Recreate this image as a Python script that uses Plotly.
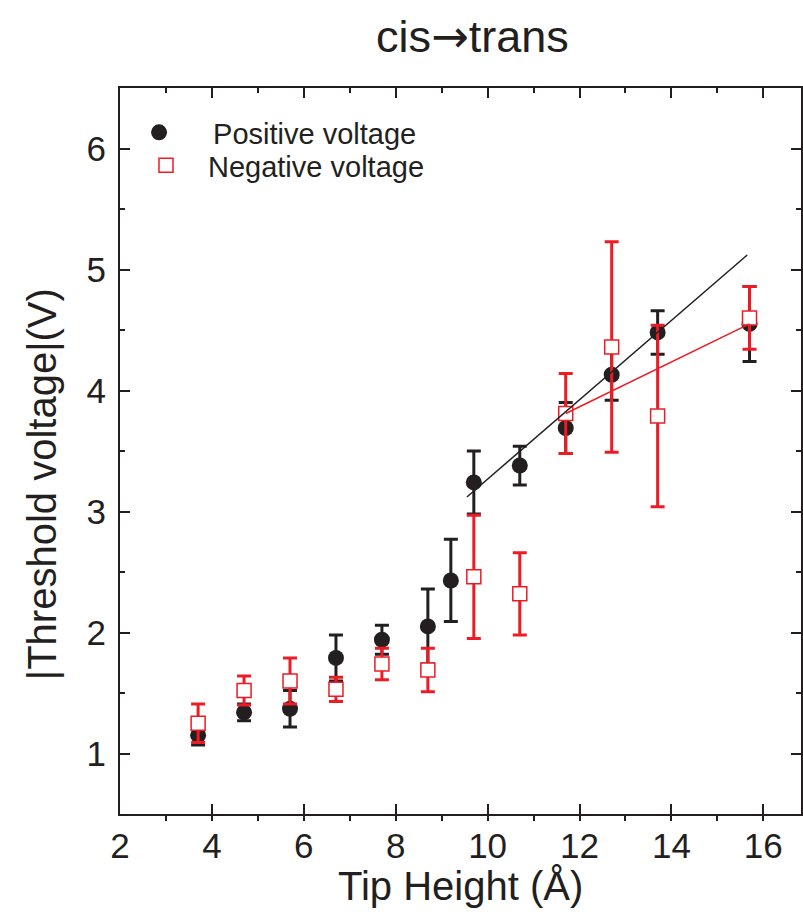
import plotly.graph_objects as go

# ---- data ----
pos_x = [3.7, 4.7, 5.7, 6.7, 7.7, 8.7, 9.2, 9.7, 10.7, 11.7, 12.7, 13.7, 15.7]
pos_y = [1.15, 1.34, 1.37, 1.79, 1.94, 2.05, 2.43, 3.24, 3.38, 3.69, 4.13, 4.48, 4.55]
pos_err = [0.08, 0.07, 0.15, 0.19, 0.12, 0.31, 0.34, 0.26, 0.16, 0.21, 0.21, 0.18, 0.31]

neg_x = [3.7, 4.7, 5.7, 6.7, 7.7, 8.7, 9.7, 10.7, 11.7, 12.7, 13.7, 15.7]
neg_y = [1.25, 1.52, 1.60, 1.53, 1.74, 1.69, 2.46, 2.32, 3.81, 4.36, 3.79, 4.60]
neg_err = [0.16, 0.12, 0.19, 0.10, 0.13, 0.18, 0.51, 0.34, 0.33, 0.87, 0.75, 0.26]

fit_pos_x = [9.55, 15.65]
fit_pos_y = [3.12, 5.12]
fit_neg_x = [11.7, 15.7]
fit_neg_y = [3.81, 4.55]

x_ticks = [2, 4, 6, 8, 10, 12, 14, 16]
y_ticks = [1, 2, 3, 4, 5, 6]

BLACK = "#231F20"
RED = "#ED1C24"
FONT = "Liberation Sans, Arial, sans-serif"

W, H = 803, 912
L, R, T, B = 120, 0, 88, 98
PW, PH = W - L - R, H - T - B


def px(x):
    return (x - L) / PW


def py(y):
    return (H - B - y) / PH


fig = go.Figure()

fig.add_trace(go.Scatter(
    x=pos_x, y=pos_y, mode="markers", name="Positive voltage",
    legend="legend",
    marker=dict(symbol="circle", size=16, color=BLACK, line=dict(width=0)),
    error_y=dict(type="data", array=pos_err, visible=True, color=BLACK,
                 thickness=3, width=7),
))
fig.add_trace(go.Scatter(
    x=neg_x, y=neg_y, mode="markers", name="Negative voltage",
    legend="legend2",
    marker=dict(symbol="square", size=14, color="white",
                line=dict(width=1.5, color=RED)),
    error_y=dict(type="data", array=neg_err, visible=True, color=RED,
                 thickness=3, width=7),
))
fig.add_trace(go.Scatter(
    x=fit_pos_x, y=fit_pos_y, mode="lines", showlegend=False,
    line=dict(color=BLACK, width=1.5), hoverinfo="skip",
))
fig.add_trace(go.Scatter(
    x=fit_neg_x, y=fit_neg_y, mode="lines", showlegend=False,
    line=dict(color=RED, width=1.5), hoverinfo="skip",
))
# invisible trace to activate the top axis
fig.add_trace(go.Scatter(
    x=[x_ticks[0]], y=[y_ticks[0]], xaxis="x2", mode="markers",
    marker=dict(opacity=0), showlegend=False, hoverinfo="skip",
))

axis_common = dict(
    showgrid=False, zeroline=False, showline=True, linecolor=BLACK,
    linewidth=2, tickcolor=BLACK, tickwidth=2,
    tickfont=dict(family=FONT, size=35, color=BLACK),
)

legend_common = dict(
    xanchor="left", yanchor="top", bgcolor="rgba(0,0,0,0)",
    font=dict(family=FONT, size=29, color=BLACK),
)

fig.update_layout(
    width=W, height=H,
    margin=dict(l=L, r=R, t=T, b=B),
    paper_bgcolor="white", plot_bgcolor="white",
    font=dict(family=FONT, color=BLACK),
    xaxis=dict(
        range=[2, 16.82], tickvals=x_ticks, ticks="inside", ticklen=10,
        ticklabelstandoff=0,
        minor=dict(dtick=1, ticks="outside", ticklen=5, tickwidth=2,
                   tickcolor=BLACK),
        **axis_common,
    ),
    xaxis2=dict(
        overlaying="x", side="top", range=[2, 16.82], tickvals=x_ticks,
        ticks="inside", ticklen=10, showticklabels=False,
        minor=dict(dtick=1, ticks="inside", ticklen=5, tickwidth=2,
                   tickcolor=BLACK),
        **axis_common,
    ),
    yaxis=dict(
        range=[0.5, 6.5], tickvals=y_ticks, ticks="inside", ticklen=10,
        mirror="ticks", ticklabelstandoff=5,
        minor=dict(dtick=0.5, ticks="inside", ticklen=5, tickwidth=2,
                   tickcolor=BLACK),
        **axis_common,
    ),
    legend=dict(x=px(105), y=py(107), itemwidth=98, **legend_common),
    legend2=dict(x=px(124), y=py(140), itemwidth=74, **legend_common),
    annotations=[
        dict(text="cis<span style='font-family:DejaVu Sans'>→</span>trans",
             x=px(474), y=py(37), xref="paper", yref="paper",
             xanchor="center", yanchor="middle", showarrow=False,
             font=dict(family=FONT, size=45, color=BLACK)),
        dict(text="Tip Height (Å)", x=px(462), y=py(886), xref="paper",
             yref="paper", xanchor="center", yanchor="middle",
             showarrow=False, font=dict(family=FONT, size=40, color=BLACK)),
        dict(text="|Threshold voltage|(V)", x=px(42), y=py(484),
             xref="paper", yref="paper", xanchor="center", yanchor="middle",
             textangle=-90, showarrow=False,
             font=dict(family=FONT, size=40, color=BLACK)),
    ],
)

fig.write_html("out.html")
